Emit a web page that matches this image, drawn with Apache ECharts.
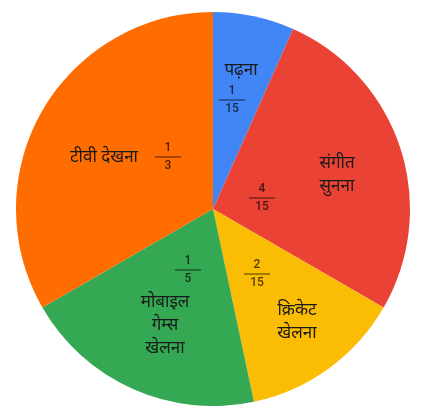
<!DOCTYPE html>
<html><head><meta charset="utf-8">
<script src="https://cdn.jsdelivr.net/npm/echarts@6/dist/echarts.min.js"></script>
<style>html,body{margin:0;padding:0;background:#fff}#c{width:436px;height:415px}</style>
</head><body><div id="c"></div>
<script>
const categories = ['पढ़ना', 'संगीत\nसुनना', 'क्रिकेट\nखेलना', 'मोबाइल\nगेम्स\nखेलना', 'टीवी देखना'];
const numerators = [1, 4, 2, 1, 1];
const denominators = [15, 15, 15, 5, 3];
const values = numerators.map((n, i) => n / denominators[i]);
const colors = ['#4285F4', '#EA4335', '#FBBC04', '#34A853', '#FF6D01'];

// label layout offsets from pie centre (px)
const nameOffsets = [[28, -139], [124, -34], [84, 113], [-48, 116], [-109, -52]];
const fracOffsets = [[19, -109], [49, -11], [44, 65], [-25, 61], [-45, -52]];
const CX = 213, CY = 209, R = 197;

const chart = echarts.init(document.getElementById('c'));
const data = categories.map((c, i) => ({ name: c, value: values[i], itemStyle: { color: colors[i] } }));
const fontFam = '"Noto Sans", "Noto Sans Devanagari", "Lohit Devanagari", sans-serif';

chart.setOption({
  animation: false,
  series: [
    {
      type: 'pie', center: [CX, CY], radius: R, startAngle: 90, clockwise: true,
      data: data,
      itemStyle: { borderWidth: 0 },
      label: { show: true, position: 'inside', formatter: '{b}', color: '#1a1a1a', fontSize: 17, lineHeight: 23, fontFamily: fontFam, align: 'center' },
      labelLine: { show: false },
      labelLayout: p => ({ x: CX + nameOffsets[p.dataIndex][0], y: CY + nameOffsets[p.dataIndex][1], align: 'center', verticalAlign: 'middle' }),
      silent: true
    },
    {
      type: 'pie', center: [CX, CY], radius: R, startAngle: 90, clockwise: true,
      data: data.map(d => ({ name: d.name, value: d.value, itemStyle: { color: 'rgba(0,0,0,0)' } })),
      label: {
        show: true, position: 'inside',
        formatter: p => '{n|' + numerators[p.dataIndex] + '}\n{l| }\n{d|' + denominators[p.dataIndex] + '}',
        rich: {
          n: { fontSize: 12, fontWeight: 500, color: 'rgba(0,0,0,0.7)', fontFamily: 'Roboto, sans-serif', align: 'center', lineHeight: 13 },
          l: { width: 26, height: 1, lineHeight: 5, fontSize: 1, backgroundColor: 'rgba(0,0,0,0.7)', align: 'center' },
          d: { fontSize: 12, fontWeight: 500, color: 'rgba(0,0,0,0.7)', fontFamily: 'Roboto, sans-serif', align: 'center', lineHeight: 13 }
        }
      },
      labelLine: { show: false },
      labelLayout: p => ({ x: CX + fracOffsets[p.dataIndex][0], y: CY + fracOffsets[p.dataIndex][1], align: 'center', verticalAlign: 'middle' }),
      silent: true
    }
  ]
});
</script></body></html>
